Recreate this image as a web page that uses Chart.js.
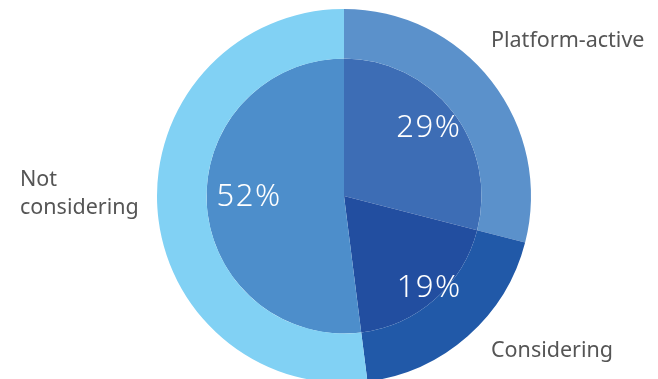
<!DOCTYPE html>
<html>
<head>
<meta charset="utf-8">
<script src="https://cdn.jsdelivr.net/npm/chart.js@4/dist/chart.umd.min.js"></script>
<style>
  html, body { margin: 0; padding: 0; background: #fff; overflow: hidden; width: 658px; height: 379px; }
  #wrap { position: absolute; left: 0; top: 0; width: 658px; height: 383px; }
</style>
</head>
<body>
<div id="wrap"><canvas id="c"></canvas></div>
<script>
const categories = ["Platform-active", "Considering", "Not considering"];
const shares = [29, 19, 52];
const percentLabels = ["29%", "19%", "52%"];
const outerColors = ["#5B91CB", "#2159A8", "#81D1F4"];
const innerColors = ["#3D6DB5", "#224EA0", "#4D8ECB"];

const labelPlugin = {
  id: 'labels',
  afterDatasetsDraw(chart) {
    const ctx = chart.ctx;
    const inner = chart.getDatasetMeta(1).data;
    const rFrac = [0.80, 0.90, 0.69];
    const aShift = [-1.7, -2.1, 4.2];
    ctx.save();
    ctx.fillStyle = '#ffffff';
    ctx.font = '300 31px "Noto Sans", sans-serif';
    if ('letterSpacing' in ctx) ctx.letterSpacing = '1.5px';
    ctx.textAlign = 'center';
    ctx.textBaseline = 'alphabetic';
    inner.forEach((arc, i) => {
      const mid = (arc.startAngle + arc.endAngle) / 2 + aShift[i] * Math.PI / 180;
      const r = arc.outerRadius * rFrac[i];
      ctx.fillText(percentLabels[i], arc.x + Math.cos(mid) * r, arc.y + Math.sin(mid) * r + 11);
    });
    if ('letterSpacing' in ctx) ctx.letterSpacing = '0px';
    ctx.fillStyle = '#555555';
    ctx.font = '21.5px "Noto Sans", sans-serif';
    ctx.textAlign = 'left';
    ctx.fillText(categories[0], 491, 47);
    ctx.fillText(categories[1], 491, 356.5);
    ctx.fillText("Not", 20, 186);
    ctx.fillText("considering", 20, 214);
    ctx.restore();
  }
};

new Chart(document.getElementById('c'), {
  type: 'pie',
  data: {
    labels: categories,
    datasets: [
      { data: shares, backgroundColor: outerColors, borderWidth: 0, weight: 49.5 },
      { data: shares, backgroundColor: innerColors, borderWidth: 0, weight: 137.5 }
    ]
  },
  options: {
    responsive: true,
    maintainAspectRatio: false,
    animation: false,
    layout: { padding: { left: 157, right: 127, top: 9, bottom: 0 } },
    plugins: { legend: { display: false }, tooltip: { enabled: false } }
  },
  plugins: [labelPlugin]
});
</script>
</body>
</html>
